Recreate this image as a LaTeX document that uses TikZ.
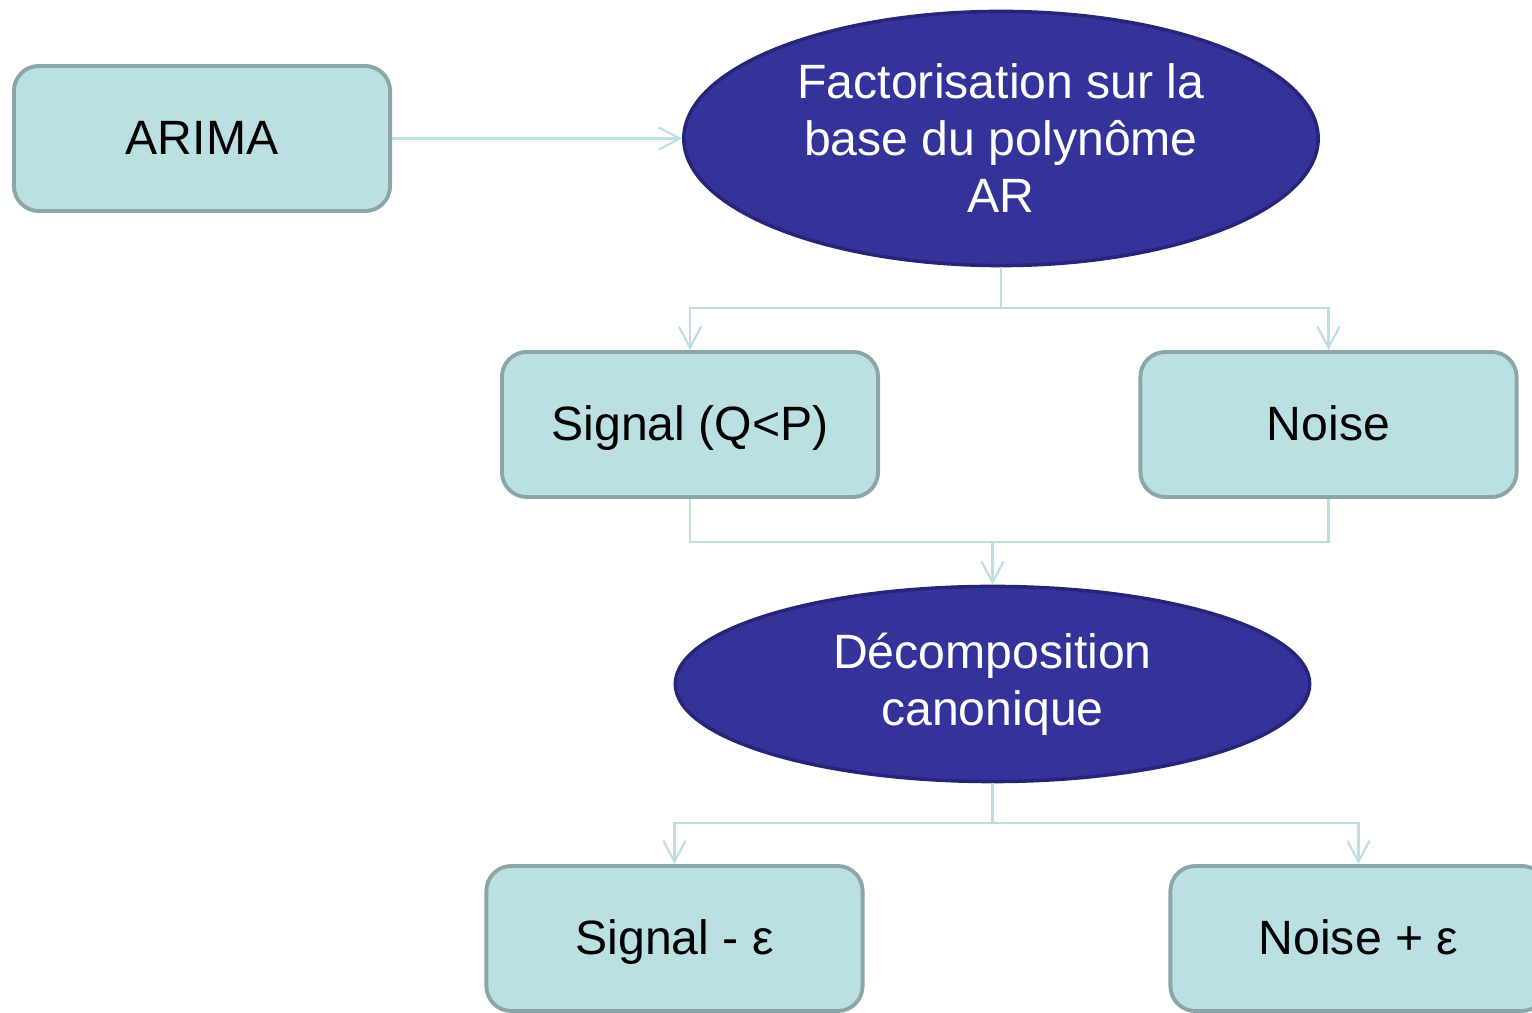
\documentclass[tikz,border=0pt]{standalone}
\usepackage{fontspec}
\setmainfont{Liberation Sans}
\usetikzlibrary{arrows.meta,shapes.geometric}
\definecolor{boxfill}{HTML}{BBE0E3}
\definecolor{boxline}{HTML}{8BA5A8}
\definecolor{blobfill}{HTML}{333399}
\definecolor{blobline}{HTML}{25257A}
\begin{document}
\begin{tikzpicture}[x=0.01cm, y=-0.01cm]
				\tikzstyle{every node}=[inner sep=0pt, align=center, font=\fontsize{13.7pt}{16.2pt}\selectfont]
				\tikzstyle{box}=[draw=boxline, fill=boxfill, line width=1.1pt, rounded corners=0.25cm, minimum width=3.76cm, minimum height=1.45cm, text height=0.92em, text depth=0pt]
				\tikzstyle{blob}=[ellipse, draw=blobline, fill=blobfill, line width=1pt, text=white, minimum width=6.34cm]
				\tikzstyle{link}=[draw=boxfill, line width=0.6pt, -{Straight Barb[length=6pt, width=6.3pt]}]
				\useasboundingbox (0,0) rectangle (1532,1013);
				\node[box] (arima) at (202, 138.5) {ARIMA};
				\node[blob, minimum height=2.54cm] (factor) at (1001, 138.5) {Factorisation sur la\\base du polynôme\\AR};
				\node[box] (signal) at (690, 424.5) {Signal (Q<P)};
				\node[box] (noise) at (1328.5, 424.5) {Noise};
				\node[blob, minimum height=1.95cm] (decomp) at (992.5, 684) {Décomposition\\canonique};
				\node[box] (sigeps) at (674.5, 938.5) {Signal - ε};
				\node[box] (noieps) at (1358.5, 938.5) {Noise + ε};
				\coordinate (fork1) at (1001, 308);
				\coordinate (join) at (992.5, 542);
				\coordinate (fork2) at (992.5, 823);
				\draw [link] (arima) -- (factor);
				\draw [link, -] (factor.south) -- (fork1);
				\draw [link] (fork1) -| (signal.north);
				\draw [link] (fork1) -| (noise.north);
				\draw [link, -] (signal.south) |- (join);
				\draw [link, -] (noise.south) |- (join);
				\draw [link] (join) -- (decomp.north);
				\draw [link, -] (decomp.south) -- (fork2);
				\draw [link] (fork2) -| (sigeps.north);
				\draw [link] (fork2) -| (noieps.north);
		\end{tikzpicture}
\end{document}
